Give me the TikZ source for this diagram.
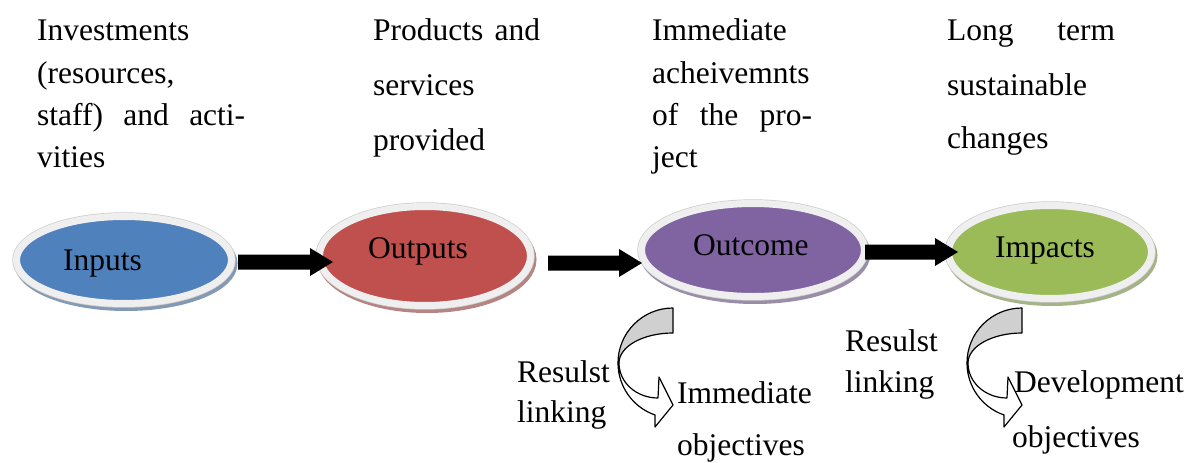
\documentclass[tikz,border=0pt]{standalone}
\usepackage{fontspec}
\setmainfont{Liberation Serif}
\usetikzlibrary{calc,shapes.geometric}
\definecolor{inblue}{HTML}{4F81BD}
\definecolor{outred}{HTML}{C0504D}
\definecolor{ocpurple}{HTML}{8064A2}
\definecolor{impgreen}{HTML}{9BBB59}
\definecolor{rimc}{HTML}{EFEFEF}
\definecolor{arrgray}{HTML}{D0D0D0}
\newcommand\blockarrow[2]{\fill let \p1=(#1), \p2=(#2) in
  (\x1,\y1+7.5pt) -- (\x2-23pt,\y1+7.5pt) -- (\x2-23pt,\y1+14pt) -- (\x2,\y1)
  -- (\x2-23pt,\y1-14pt) -- (\x2-23pt,\y1-7.5pt) -- (\x1,\y1-7.5pt) -- cycle;}
\tikzset{
  ell/.style={ellipse, inner sep=0pt, draw=rimc, line width=7pt,
    preaction={fill=#1!55!gray!80!white, draw=#1!55!gray!80!white, line width=8pt,
      transform canvas={shift={(2pt,-3.5pt)}}},
    preaction={draw=gray!40, line width=8.4pt},
    fill=#1},
  txt/.style={anchor=base west, inner sep=0pt, font=\fontsize{31.5}{38}\selectfont},
  curvarr/.pic={
    \filldraw[fill=arrgray, draw=black, line width=1.2pt, line join=round]
      (0,0) .. controls (-30.4,0) and (-55,24.6) .. (-55,55)
      -- (-54,55) .. controls (-54,38.4) and (-29.8,25) .. (0,25) -- cycle;
    \filldraw[fill=white, draw=black, line width=1.2pt, line join=round]
      (-55,55) arc[start angle=180, end angle=109, radius=55]
      -- (-18,119) -- (0,97) -- (-14,69) -- (-15,90)
      .. controls (-36,90) and (-54,75) .. (-54,55) -- cycle;
  }
}
\begin{document}
\begin{tikzpicture}[x=1pt,y=-1pt]
\useasboundingbox (0,0) rectangle (1200,463);
\fill[white] (0,0) rectangle (1200,463);

% ellipses
\node[ell=inblue, minimum width=215pt, minimum height=87pt] (inp) at (124,260) {};
\node[ell=outred, minimum width=211pt, minimum height=99pt] (outp) at (425,256) {};
\node[ell=ocpurple, minimum width=223pt, minimum height=93pt] (outc) at (753,250) {};
\node[ell=impgreen, minimum width=203pt, minimum height=93pt] (imp) at (1050,252) {};

\node[txt] (inpl) at (63,270) {Inputs};
\node[txt] (outpl) at (368,258) {Outputs};
\node[txt] (outcl) at (693,255) {Outcome};
\node[txt] (impl) at (995,257) {Impacts};

% block arrows
\coordinate (a1s) at ([xshift=3pt,yshift=-2pt]inp.east);
\coordinate (a1e) at ([xshift=17pt,yshift=-6pt]outp.west);
\coordinate (a2s) at ([xshift=14pt,yshift=-7pt]outp.east);
\coordinate (a2e) at ([xshift=4pt,yshift=-13pt]outc.west);
\coordinate (a3s) at ([xshift=-3pt,yshift=-2pt]outc.east);
\coordinate (a3e) at ([xshift=13pt,yshift=0pt]imp.west);
\blockarrow{a1s}{a1e}
\blockarrow{a2s}{a2e}
\blockarrow{a3s}{a3e}

% top texts
\node[txt] (t1a) at (37,40) {Investments};
\node[txt] (t1b) at (37,83) {(resources,};
\node[txt] (t1c) at (37,125) {\hbox to 208pt{staff)\hfill and\hfill acti-}};
\node[txt] (t1d) at (37,167) {vities};

\node[txt] (t2a) at (373,40) {\hbox to 167pt{Products\hfill and}};
\node[txt] (t2b) at (373,95) {services};
\node[txt] (t2c) at (373,150) {provided};

\node[txt] (t3a) at (652,40) {Immediate};
\node[txt] (t3b) at (652,83) {acheivemnts};
\node[txt] (t3c) at (652,125) {\hbox to 160pt{of\hfill the\hfill pro-}};
\node[txt] (t3d) at (652,167) {ject};

\node[txt] (t4a) at (947,40) {\hbox to 168pt{Long\hfill term}};
\node[txt] (t4b) at (947,95) {sustainable};
\node[txt] (t4c) at (947,148) {changes};

% curved arrows
\pic at (673,308) {curvarr};
\pic at (1022,308) {curvarr};

% bottom texts
\node[txt] (r1a) at (517,382) {Resulst};
\node[txt] (r1b) at (517,422) {linking};
\node[txt] (o1a) at (677,403) {Immediate};
\node[txt] (o1b) at (677,455) {objectives};

\node[txt] (r2a) at (845,351) {Resulst};
\node[txt] (r2b) at (845,392) {linking};
\node[txt] (o2a) at (1014,392) {Development};
\node[txt] (o2b) at (1012,447) {objectives};
\end{tikzpicture}
\end{document}
